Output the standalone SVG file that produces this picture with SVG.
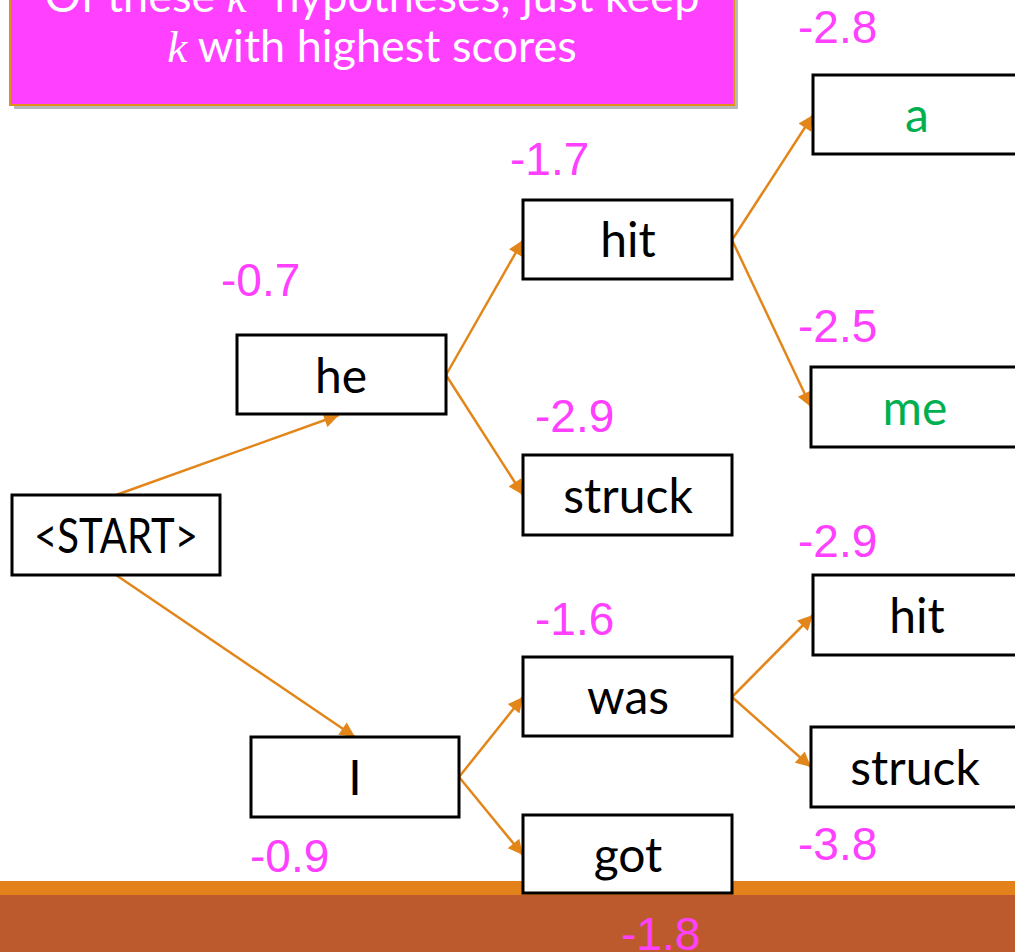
<svg xmlns="http://www.w3.org/2000/svg" width="1015" height="952" viewBox="0 0 1015 952">
<defs>
<style>
.box{fill:#fff;stroke:#000;stroke-width:3}
.lbl{font-family:Lato,"Open Sans",sans-serif;font-size:48px;text-anchor:middle;fill:#000}
.grn{fill:#00B050}
.sc{font-family:"Liberation Sans",Arial,sans-serif;font-size:46px;fill:#FF40FF}
.edge{stroke:#E3861A;stroke-width:2.5;fill:none;marker-end:url(#ah)}
.title{font-family:Lato,"Open Sans",sans-serif;font-size:45px;fill:#fff;text-anchor:middle}
.mi{font-family:"Liberation Serif",serif;font-style:italic}
</style>
<marker id="ah" viewBox="0 0 10 10" refX="10" refY="5" markerWidth="7" markerHeight="6" orient="auto" markerUnits="strokeWidth">
<path d="M0,0 L10,5 L0,10 z" fill="#E3861A"/>
</marker>
</defs>
<rect x="0" y="0" width="1015" height="952" fill="#fff"/>
<g id="band">
<rect x="0" y="881" width="1015" height="14" fill="#E3821A"/>
<rect x="0" y="895" width="1015" height="57" fill="#BC5A2E"/>
</g>
<g id="title">
<rect x="14" y="-10" width="724" height="119" fill="#8a8a8a" opacity="0.6"/>
<rect x="10" y="-14" width="724" height="119" fill="#FF40FF" stroke="#E0901A" stroke-width="2"/>
<text class="title" x="372" y="12">Of these <tspan class="mi">k</tspan><tspan font-size="28" dy="-18">2</tspan><tspan dy="18"> hypotheses, just keep</tspan></text>
<text class="title" x="372" y="62"><tspan class="mi">k</tspan> with highest scores</text>
</g>
<g id="connectors">
<line class="edge" x1="116" y1="495" x2="339" y2="415"/>
<line class="edge" x1="116" y1="575" x2="355" y2="737"/>
<line class="edge" x1="446" y1="375" x2="523" y2="240"/>
<line class="edge" x1="446" y1="375" x2="523" y2="495"/>
<line class="edge" x1="732" y1="240" x2="813" y2="115"/>
<line class="edge" x1="732" y1="240" x2="811" y2="407"/>
<line class="edge" x1="459" y1="777" x2="523" y2="697"/>
<line class="edge" x1="459" y1="777" x2="523" y2="855"/>
<line class="edge" x1="732" y1="697" x2="813" y2="615"/>
<line class="edge" x1="732" y1="697" x2="811" y2="767"/>
</g>
<g id="n-start"><rect class="box" x="12" y="495" width="208" height="80"/><text class="lbl" x="116" y="553" textLength="164" lengthAdjust="spacingAndGlyphs">&lt;START&gt;</text></g>
<g id="n-he"><rect class="box" x="237" y="335" width="209" height="79"/><text class="lbl" x="341" y="393">he</text></g>
<g id="n-I"><rect class="box" x="251" y="737" width="208" height="80"/><text class="lbl" x="355" y="795">I</text></g>
<g id="n-hit"><rect class="box" x="523" y="200" width="209" height="79"/><text class="lbl" x="628" y="257">hit</text></g>
<g id="n-struck"><rect class="box" x="523" y="455" width="209" height="80"/><text class="lbl" x="628" y="513">struck</text></g>
<g id="n-was"><rect class="box" x="523" y="657" width="209" height="79"/><text class="lbl" x="628" y="714">was</text></g>
<g id="n-got"><rect class="box" x="523" y="815" width="209" height="78"/><text class="lbl" x="628" y="872">got</text></g>
<g id="n-a"><rect class="box" x="813" y="75" width="209" height="79"/><text class="lbl grn" x="917" y="132">a</text></g>
<g id="n-me"><rect class="box" x="811" y="367" width="209" height="80"/><text class="lbl grn" x="915" y="425">me</text></g>
<g id="n-hit2"><rect class="box" x="813" y="575" width="209" height="80"/><text class="lbl" x="917" y="633">hit</text></g>
<g id="n-struck2"><rect class="box" x="811" y="727" width="209" height="80"/><text class="lbl" x="915" y="785">struck</text></g>
<g id="scores">
<text class="sc" x="221" y="296">-0.7</text>
<text class="sc" x="250" y="872">-0.9</text>
<text class="sc" x="510" y="175">-1.7</text>
<text class="sc" x="535" y="432">-2.9</text>
<text class="sc" x="535" y="635">-1.6</text>
<text class="sc" x="621" y="950">-1.8</text>
<text class="sc" x="798" y="43">-2.8</text>
<text class="sc" x="798" y="342">-2.5</text>
<text class="sc" x="798" y="557">-2.9</text>
<text class="sc" x="798" y="860">-3.8</text>
</g>
</svg>
